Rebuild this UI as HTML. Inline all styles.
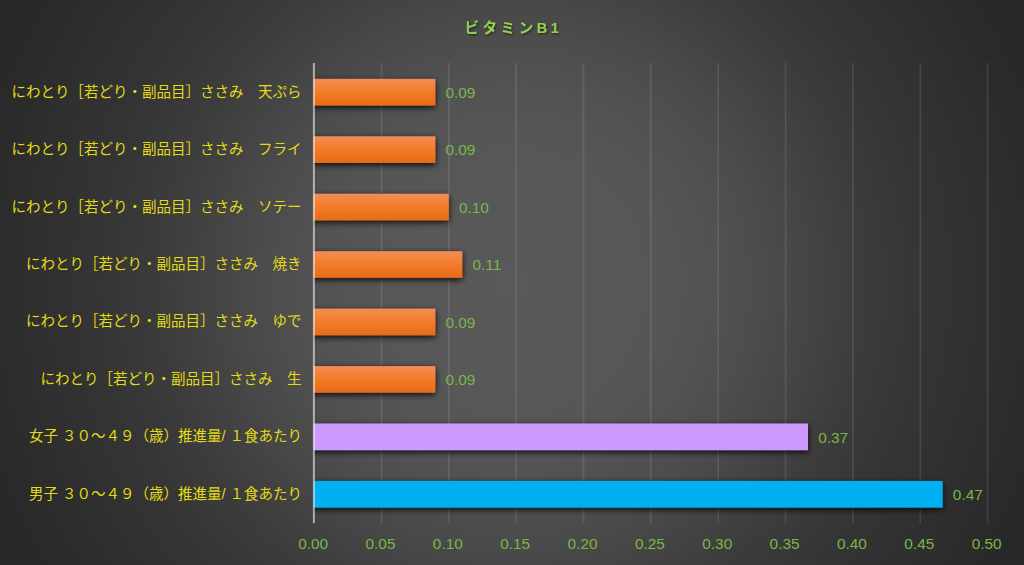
<!DOCTYPE html>
<html lang="ja"><head><meta charset="utf-8"><title>ビタミンB1</title>
<style>
html,body{margin:0;padding:0;background:#404040;}
body{width:1024px;height:565px;overflow:hidden;font-family:"Liberation Sans",sans-serif;}
svg{display:block;}
.sr{position:absolute;left:0;top:0;width:1px;height:1px;overflow:hidden;clip-path:inset(50%);opacity:0;color:transparent;white-space:nowrap;}
</style></head><body>
<svg width="1024" height="565" viewBox="0 0 1024 565" role="img" aria-label="ビタミンB1">
<defs>
<radialGradient id="bg" gradientUnits="userSpaceOnUse" cx="512" cy="282.5" r="585"><stop offset="0.0000" stop-color="#595959"/><stop offset="0.1000" stop-color="#585858"/><stop offset="0.1700" stop-color="#585858"/><stop offset="0.2500" stop-color="#565656"/><stop offset="0.3000" stop-color="#545454"/><stop offset="0.3400" stop-color="#525252"/><stop offset="0.4000" stop-color="#4e4e4e"/><stop offset="0.4500" stop-color="#4a4a4a"/><stop offset="0.5150" stop-color="#444444"/><stop offset="0.6000" stop-color="#3c3c3c"/><stop offset="0.7000" stop-color="#353535"/><stop offset="0.8000" stop-color="#303030"/><stop offset="0.8750" stop-color="#2c2c2c"/><stop offset="0.9400" stop-color="#292929"/><stop offset="1.0000" stop-color="#272727"/></radialGradient>
<clipPath id="pc"><rect x="313.6" y="0" width="720" height="565"/></clipPath>
<linearGradient id="or" x1="0" y1="0" x2="0" y2="1"><stop offset="0" stop-color="#F28D55"/><stop offset="0.5" stop-color="#F37B28"/><stop offset="1" stop-color="#E76B19"/></linearGradient>
<filter id="sh" x="-5%" y="-5%" width="110%" height="110%"><feGaussianBlur in="SourceAlpha" stdDeviation="3.1"/><feOffset dx="0" dy="2.4"/><feComponentTransfer><feFuncA type="linear" slope="0.9"/></feComponentTransfer><feMerge><feMergeNode/><feMergeNode in="SourceGraphic"/></feMerge></filter>
<filter id="ts" x="-10%" y="-30%" width="120%" height="170%"><feGaussianBlur in="SourceAlpha" stdDeviation="1.2"/><feOffset dx="0.8" dy="1.3"/><feComponentTransfer><feFuncA type="linear" slope="0.6"/></feComponentTransfer><feMerge><feMergeNode/><feMergeNode in="SourceGraphic"/></feMerge></filter>
</defs>
<rect width="1024" height="565" fill="url(#bg)"/>
<g fill="#ffffff" fill-opacity="0.105"><rect x="380.60" y="63.0" width="1.7" height="460.2"/><rect x="447.95" y="63.0" width="1.7" height="460.2"/><rect x="515.30" y="63.0" width="1.7" height="460.2"/><rect x="582.65" y="63.0" width="1.7" height="460.2"/><rect x="650.00" y="63.0" width="1.7" height="460.2"/><rect x="717.35" y="63.0" width="1.7" height="460.2"/><rect x="784.70" y="63.0" width="1.7" height="460.2"/><rect x="852.05" y="63.0" width="1.7" height="460.2"/><rect x="919.40" y="63.0" width="1.7" height="460.2"/><rect x="986.75" y="63.0" width="1.7" height="460.2"/></g>
<g clip-path="url(#pc)"><g filter="url(#sh)"><rect x="307.90" y="78.90" width="127.43" height="26.60" fill="url(#or)"/><rect x="307.90" y="136.34" width="127.43" height="26.60" fill="url(#or)"/><rect x="307.90" y="193.78" width="140.90" height="26.60" fill="url(#or)"/><rect x="307.90" y="251.22" width="154.37" height="26.60" fill="url(#or)"/><rect x="307.90" y="308.66" width="127.43" height="26.60" fill="url(#or)"/><rect x="307.90" y="366.10" width="127.43" height="26.60" fill="url(#or)"/><rect x="307.90" y="423.54" width="500.10" height="26.60" fill="#CC99FF"/><rect x="307.90" y="480.98" width="634.80" height="26.60" fill="#00B0F0"/></g></g>
<rect x="312.90" y="63.0" width="2" height="460.2" fill="#ffffff" fill-opacity="0.56"/>
<g fill="#7AB648" font-family="'Liberation Sans', sans-serif" font-size="15.4">
<text x="298.15" y="548.9">0.00</text>
<text x="365.5" y="548.9">0.05</text>
<text x="432.85" y="548.9">0.10</text>
<text x="500.2" y="548.9">0.15</text>
<text x="567.55" y="548.9">0.20</text>
<text x="634.9" y="548.9">0.25</text>
<text x="702.25" y="548.9">0.30</text>
<text x="769.6" y="548.9">0.35</text>
<text x="836.95" y="548.9">0.40</text>
<text x="904.3" y="548.9">0.45</text>
<text x="971.65" y="548.9">0.50</text>
<text x="445.48" y="97.97">0.09</text>
<text x="445.48" y="155.41">0.09</text>
<text x="458.95" y="212.85">0.10</text>
<text x="472.42" y="270.29">0.11</text>
<text x="445.48" y="327.73">0.09</text>
<text x="445.48" y="385.17">0.09</text>
<text x="818.15" y="442.61">0.37</text>
<text x="952.85" y="500.05">0.47</text>
</g>
<g fill="#E3DB14" font-family="'Liberation Sans', 'Noto Sans CJK JP', sans-serif" font-size="14.5" text-anchor="end">
<text x="301.5" y="96.67">にわとり［若どり・副品目］ささみ　天ぷら</text>
<text x="301.5" y="154.12">にわとり［若どり・副品目］ささみ　フライ</text>
<text x="301.5" y="211.57">にわとり［若どり・副品目］ささみ　ソテー</text>
<text x="301.5" y="269.02">にわとり［若どり・副品目］ささみ　焼き</text>
<text x="301.5" y="326.47">にわとり［若どり・副品目］ささみ　ゆで</text>
<text x="301.5" y="383.92">にわとり［若どり・副品目］ささみ　生</text>
<text x="302" y="441.37">女子 ３０～４９（歳）推進量/ １食あたり</text>
<text x="302" y="498.82">男子 ３０～４９（歳）推進量/ １食あたり</text>
</g>
<g fill="#92D050" filter="url(#ts)"><text x="464.4" y="32.63" font-family="'Liberation Sans', 'Noto Sans CJK JP', sans-serif" font-size="14.6" font-weight="bold" letter-spacing="3.5">ビタミンB1</text></g>
</svg>
<div class="sr">
<h1>ビタミンB1</h1>
<ul>
<li>にわとり［若どり・副品目］ささみ 天ぷら — 0.09</li>
<li>にわとり［若どり・副品目］ささみ フライ — 0.09</li>
<li>にわとり［若どり・副品目］ささみ ソテー — 0.10</li>
<li>にわとり［若どり・副品目］ささみ 焼き — 0.11</li>
<li>にわとり［若どり・副品目］ささみ ゆで — 0.09</li>
<li>にわとり［若どり・副品目］ささみ 生 — 0.09</li>
<li>女子 ３０～４９（歳）推進量/ １食あたり — 0.37</li>
<li>男子 ３０～４９（歳）推進量/ １食あたり — 0.47</li>
</ul>
<p>0.00 0.05 0.10 0.15 0.20 0.25 0.30 0.35 0.40 0.45 0.50</p>
</div>
</body></html>
